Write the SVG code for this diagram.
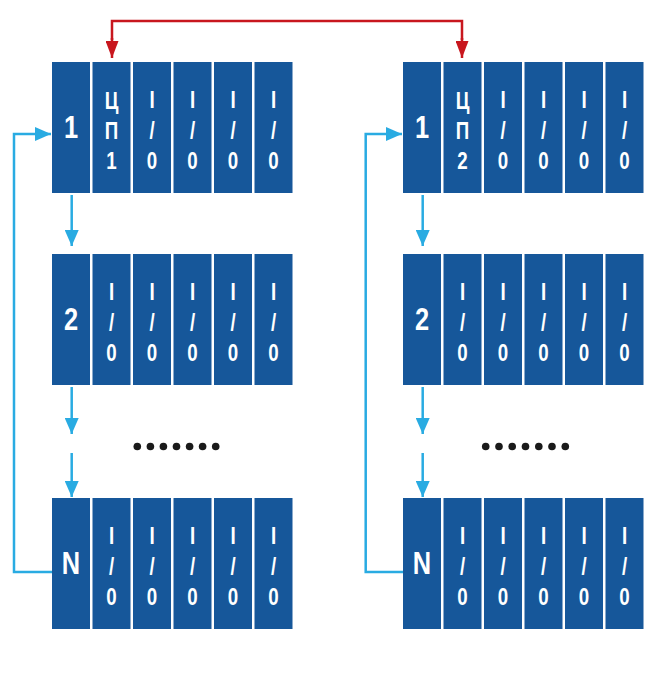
<svg xmlns="http://www.w3.org/2000/svg" width="662" height="676" viewBox="0 0 662 676">
<style>
.m{fill:#16579a}
.t{fill:#fff;font-family:"Liberation Sans Narrow","Liberation Sans",Arial,sans-serif;font-weight:bold;text-anchor:middle}
.s{font-size:24px}
.b{font-size:31px}
.cb{fill:none;stroke:#29abe2;stroke-width:2.5}
.cr{fill:none;stroke:#c8171e;stroke-width:2.5}
</style>
<defs>
<marker id="ab" markerUnits="userSpaceOnUse" markerWidth="17" markerHeight="14" refX="16" refY="7" orient="auto"><path d="M0,0 L16,7 L0,14 z" fill="#29abe2"/></marker>
<marker id="ar" markerUnits="userSpaceOnUse" markerWidth="18" markerHeight="13" refX="17" refY="6.5" orient="auto"><path d="M0,0 L17,6.5 L0,13 z" fill="#c8171e"/></marker>
<g id="io"><rect class="m" x="0" y="0" width="38" height="131"/><text class="t s" transform="translate(19,46) scale(0.78,1)">I</text><text class="t s" transform="translate(19,77) scale(0.78,1)">/</text><text class="t s" transform="translate(19,107) scale(0.78,1)">0</text></g>
</defs>
<rect width="662" height="676" fill="#fff"/>

<g id="connectors">
<path class="cr" d="M112,40 V21 H462 V40"/>
<path class="cr" d="M112,38 V58" marker-end="url(#ar)"/>
<path class="cr" d="M462,38 V58" marker-end="url(#ar)"/>
<path class="cb" d="M52,572 H14 V134 H51" marker-end="url(#ab)"/>
<path class="cb" d="M403,572 H365.7 V134 H402" marker-end="url(#ab)"/>
<path class="cb" d="M71.7,195 V246" marker-end="url(#ab)"/>
<path class="cb" d="M71.7,387 V434" marker-end="url(#ab)"/>
<path class="cb" d="M71.7,453 V497" marker-end="url(#ab)"/>
<path class="cb" d="M422.7,195 V246" marker-end="url(#ab)"/>
<path class="cb" d="M422.7,387 V434" marker-end="url(#ab)"/>
<path class="cb" d="M422.7,453 V497" marker-end="url(#ab)"/>
</g>

<g id="rackA1" transform="translate(52,62)">
<rect class="m" x="0" y="0" width="38" height="131"/><text class="t b" transform="translate(19,76) scale(0.82,1)">1</text>
<g transform="translate(40.5,0)"><rect class="m" x="0" y="0" width="38" height="131"/><text class="t s" transform="translate(19,47) scale(0.78,1)">Ц</text><text class="t s" transform="translate(19,77) scale(0.78,1)">П</text><text class="t s" transform="translate(19,107) scale(0.78,1)">1</text></g>
<use href="#io" x="81"/><use href="#io" x="121.5"/><use href="#io" x="162"/><use href="#io" x="202.5"/>
</g>
<g id="rackA2" transform="translate(52,254)">
<rect class="m" x="0" y="0" width="38" height="131"/><text class="t b" transform="translate(19,76) scale(0.82,1)">2</text>
<use href="#io" x="40.5"/><use href="#io" x="81"/><use href="#io" x="121.5"/><use href="#io" x="162"/><use href="#io" x="202.5"/>
</g>
<g id="rackAN" transform="translate(52,498)">
<rect class="m" x="0" y="0" width="38" height="131"/><text class="t b" transform="translate(19,76) scale(0.82,1)">N</text>
<use href="#io" x="40.5"/><use href="#io" x="81"/><use href="#io" x="121.5"/><use href="#io" x="162"/><use href="#io" x="202.5"/>
</g>

<g id="rackB1" transform="translate(403,62)">
<rect class="m" x="0" y="0" width="38" height="131"/><text class="t b" transform="translate(19,76) scale(0.82,1)">1</text>
<g transform="translate(40.5,0)"><rect class="m" x="0" y="0" width="38" height="131"/><text class="t s" transform="translate(19,47) scale(0.78,1)">Ц</text><text class="t s" transform="translate(19,77) scale(0.78,1)">П</text><text class="t s" transform="translate(19,107) scale(0.78,1)">2</text></g>
<use href="#io" x="81"/><use href="#io" x="121.5"/><use href="#io" x="162"/><use href="#io" x="202.5"/>
</g>
<g id="rackB2" transform="translate(403,254)">
<rect class="m" x="0" y="0" width="38" height="131"/><text class="t b" transform="translate(19,76) scale(0.82,1)">2</text>
<use href="#io" x="40.5"/><use href="#io" x="81"/><use href="#io" x="121.5"/><use href="#io" x="162"/><use href="#io" x="202.5"/>
</g>
<g id="rackBN" transform="translate(403,498)">
<rect class="m" x="0" y="0" width="38" height="131"/><text class="t b" transform="translate(19,76) scale(0.82,1)">N</text>
<use href="#io" x="40.5"/><use href="#io" x="81"/><use href="#io" x="121.5"/><use href="#io" x="162"/><use href="#io" x="202.5"/>
</g>

<g id="dotsA" fill="#1a1a1a">
<circle cx="137.3" cy="446.5" r="3.8"/><circle cx="150.4" cy="446.5" r="3.8"/><circle cx="163.4" cy="446.5" r="3.8"/><circle cx="176.5" cy="446.5" r="3.8"/><circle cx="189.6" cy="446.5" r="3.8"/><circle cx="202.6" cy="446.5" r="3.8"/><circle cx="215.7" cy="446.5" r="3.8"/>
</g>
<g id="dotsB" fill="#1a1a1a">
<circle cx="485.7" cy="446.5" r="3.8"/><circle cx="499" cy="446.5" r="3.8"/><circle cx="512.2" cy="446.5" r="3.8"/><circle cx="525.5" cy="446.5" r="3.8"/><circle cx="538.8" cy="446.5" r="3.8"/><circle cx="552" cy="446.5" r="3.8"/><circle cx="565.3" cy="446.5" r="3.8"/>
</g>
</svg>
